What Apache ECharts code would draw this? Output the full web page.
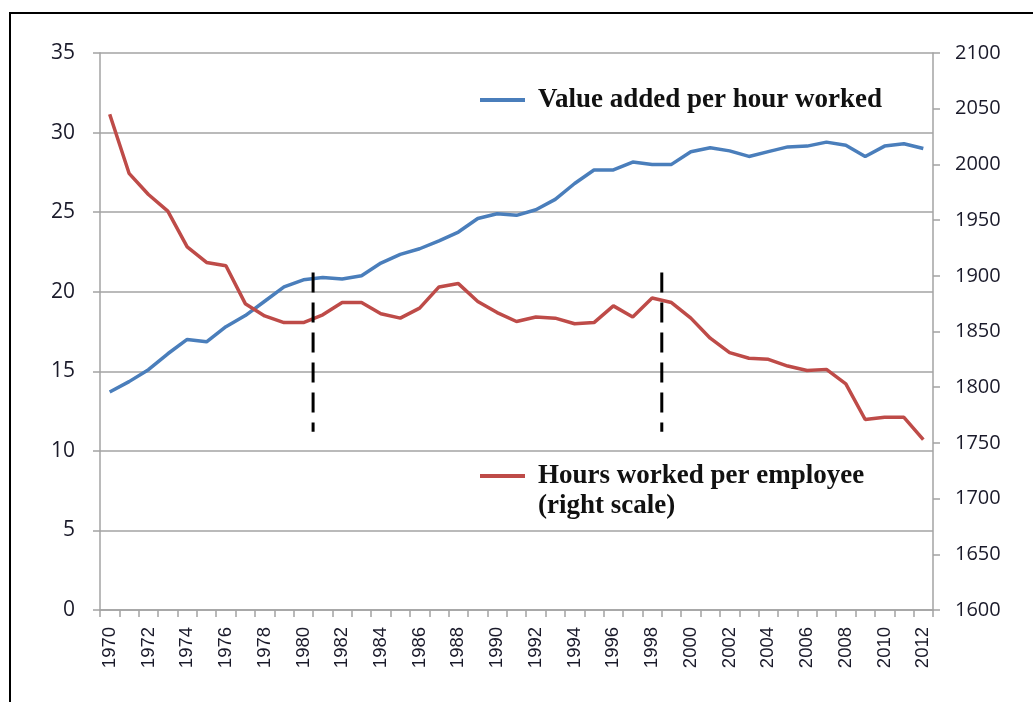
<!DOCTYPE html>
<html>
<head>
<meta charset="utf-8">
<title>Value added and hours worked</title>
<script src="https://cdn.jsdelivr.net/npm/echarts@6/dist/echarts.min.js"></script>
<style>
  html, body { margin: 0; padding: 0; background: #fff; }
  #chart { width: 1033px; height: 702px; }
</style>
</head>
<body>
<div id="chart"></div>
<script>
// data
var years = ['1970','1971','1972','1973','1974','1975','1976','1977','1978','1979',
             '1980','1981','1982','1983','1984','1985','1986','1987','1988','1989',
             '1990','1991','1992','1993','1994','1995','1996','1997','1998','1999',
             '2000','2001','2002','2003','2004','2005','2006','2007','2008','2009',
             '2010','2011','2012'];
var valueAdded = [13.7, 14.35, 15.1, 16.1, 17.0, 16.85, 17.8, 18.5, 19.4, 20.3,
                  20.75, 20.9, 20.8, 21.0, 21.8, 22.35, 22.7, 23.2, 23.75, 24.6,
                  24.9, 24.8, 25.15, 25.8, 26.8, 27.65, 27.65, 28.15, 28.0, 28.0,
                  28.8, 29.05, 28.85, 28.5, 28.8, 29.1, 29.15, 29.4, 29.2, 28.5,
                  29.15, 29.3, 29.0];
var hoursWorked = [2045, 1992, 1973, 1958, 1926, 1912, 1909, 1875, 1864, 1858,
                   1858, 1865, 1876, 1876, 1866, 1862, 1871, 1890, 1893, 1877,
                   1867, 1859, 1863, 1862, 1857, 1858, 1873, 1863, 1880, 1876,
                   1862, 1844, 1831, 1826, 1825, 1819, 1815, 1816, 1803, 1771,
                   1773, 1773, 1753];
// dashed markers between years (left scale)
var breakYears = [1980.5, 1998.5];
var breakRange = [21.2, 11.2];

var nameValue = 'Value added per hour worked';
var nameHours = 'Hours worked per employee';

var gridColor = '#a3a3a3';
var labelColor = '#1a1a2a';

var breakSeries = breakYears.map(function (x) {
  return {
    type: 'line',
    xAxisIndex: 1,
    yAxisIndex: 0,
    data: [[x, breakRange[0]], [x, breakRange[1]]],
    symbol: 'none',
    silent: true,
    z: 5,
    lineStyle: { color: '#000', width: 3, type: [20, 10] }
  };
});

var legendText = {
  fontFamily: 'Liberation Serif',
  fontWeight: 'bold',
  fontSize: 27,
  lineHeight: 30,
  color: '#111',
  padding: [0, 0, 0, 8]
};

var myChart = echarts.init(document.getElementById('chart'));

var option = {
  animation: false,
  backgroundColor: '#fff',
  graphic: [{
    type: 'rect',
    shape: { x: 10, y: 13, width: 1100, height: 800 },
    style: { fill: null, stroke: '#000', lineWidth: 2 },
    silent: true
  }],
  grid: { left: 100, right: 100, top: 53, bottom: 92 },
  legend: [{
    data: [nameValue],
    left: 480,
    top: 85,
    padding: 0,
    icon: 'rect',
    itemWidth: 45,
    itemHeight: 4,
    textStyle: legendText
  }, {
    data: [nameHours],
    left: 480,
    top: 431,
    padding: 0,
    icon: 'rect',
    itemWidth: 45,
    itemHeight: 4,
    // blank first line keeps the icon level with the first text line
    formatter: function (name) { return ' \n' + name + '\n(right scale)'; },
    textStyle: legendText
  }],
  xAxis: [{
    type: 'category',
    data: years,
    boundaryGap: true,
    axisLine: { lineStyle: { color: gridColor, width: 1.5 } },
    axisTick: { show: true, interval: 0, length: 7, lineStyle: { color: gridColor, width: 1.5 } },
    axisLabel: {
      interval: 1,
      rotate: 90,
      margin: 17,
      fontFamily: 'Liberation Sans',
      fontSize: 18.5,
      color: labelColor
    }
  }, {
    type: 'value',
    min: 1969.5,
    max: 2012.5,
    show: false
  }],
  yAxis: [{
    type: 'value',
    min: 0,
    max: 35,
    interval: 5,
    axisLine: { show: true, lineStyle: { color: gridColor, width: 1.5 } },
    axisTick: { show: true, length: 7, lineStyle: { color: gridColor, width: 1.5 } },
    axisLabel: { margin: 25, fontFamily: 'Open Sans', fontSize: 21, color: labelColor },
    splitLine: { show: true, lineStyle: { color: gridColor, width: 1.5 } }
  }, {
    type: 'value',
    min: 1600,
    max: 2100,
    interval: 50,
    position: 'right',
    axisLine: { show: true, lineStyle: { color: gridColor, width: 1.5 } },
    axisTick: { show: true, length: 7, lineStyle: { color: gridColor, width: 1.5 } },
    axisLabel: {
      margin: 22,
      fontFamily: 'Open Sans',
      fontSize: 20,
      color: labelColor,
      formatter: function (v) { return String(v); }
    },
    splitLine: { show: false }
  }],
  series: [{
    name: nameValue,
    type: 'line',
    yAxisIndex: 0,
    data: valueAdded,
    symbol: 'none',
    z: 3,
    color: '#4a7ebb',
    lineStyle: { color: '#4a7ebb', width: 3.5 }
  }, {
    name: nameHours,
    type: 'line',
    yAxisIndex: 1,
    data: hoursWorked,
    symbol: 'none',
    z: 3,
    color: '#be4b48',
    lineStyle: { color: '#be4b48', width: 3.5 }
  }].concat(breakSeries)
};

myChart.setOption(option);
</script>
</body>
</html>
